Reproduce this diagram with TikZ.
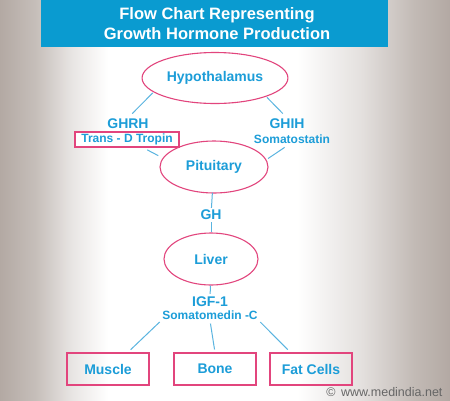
\documentclass[tikz,border=0pt]{standalone}
\usepackage{fontspec}
\setmainfont{Liberation Sans}
\usetikzlibrary{shapes.geometric,positioning}

\definecolor{bgrey}{HTML}{B3A9A3}
\definecolor{titleblue}{HTML}{0A9BD0}
\definecolor{txtblue}{HTML}{1C9DD8}
\definecolor{linkblue}{HTML}{5AB4E0}
\definecolor{pinkline}{HTML}{E2457D}
\pgfdeclarehorizontalshading{bgshade}{100bp}{color(0bp)=(bgrey); color(25bp)=(bgrey);
  color(29bp)=(bgrey!75!white); color(33bp)=(bgrey!30!white); color(37bp)=(white);
  color(58bp)=(white); color(65bp)=(bgrey!35!white); color(71bp)=(bgrey!80!white);
  color(75bp)=(bgrey); color(100bp)=(bgrey)}

\begin{document}
\begin{tikzpicture}[x=1pt,y=-1pt,
    organ/.style={ellipse,draw=pinkline,line width=1.1pt,fill=white,text=txtblue,
      font=\bfseries\fontsize{14}{16}\selectfont},
    target/.style={rectangle,draw=pinkline,line width=1.1pt,text=txtblue,
      minimum width=82pt,minimum height=32pt,font=\bfseries\fontsize{14}{16}\selectfont},
    hormone/.style={text=txtblue,inner sep=1pt,font=\bfseries\fontsize{14}{16}\selectfont},
    alias/.style={text=txtblue,inner sep=1pt,font=\bfseries\fontsize{12}{14}\selectfont},
    link/.style={draw=linkblue,line width=1pt}]

  \useasboundingbox (0,0) rectangle (450,400);
  \shade[shading=bgshade] (0,0) rectangle (450,400);
  \fill[titleblue] (41,0) rectangle (388,47);
  \node[text=white,align=center,font=\bfseries\fontsize{16.5}{20}\selectfont] (title) at (217,24)
    {Flow Chart Representing\\Growth Hormone Production};

  \node[organ,minimum width=120pt,minimum height=51pt] (hypo) at (215,78) {Hypothalamus};
  \node[organ,minimum width=108pt,minimum height=52pt] (pit) at (214,167) {Pituitary};
  \node[organ,minimum width=94pt,minimum height=52pt] (liver) at (211,259) {Liver};

  \node[hormone] (ghrh) at (128,124) {GHRH};
  \node[alias,draw=pinkline,line width=1.1pt,fill=white,minimum width=104pt,minimum height=15pt,inner sep=0pt]
    (trans) at (127,139.5) {Trans - D Tropin};
  \node[hormone] (ghih) at (287,124) {GHIH};
  \node[alias] (soma) at (292,139) {Somatostatin};
  \node[hormone] (gh) at (211,215) {GH};
  \node[hormone] (igf) at (210,302) {IGF-1};
  \node[alias] (somc) at (210,315) {Somatomedin -C};

  \node[target] (muscle) at (108,369) {Muscle};
  \node[target] (bone) at (215,369) {Bone};
  \node[target] (fat) at (311,369) {Fat Cells};

  \node[anchor=east,text=black!60,font=\fontsize{12.5}{14}\selectfont] (copy) at (446,392)
    {© \,www.medindia.net};

  \path[link]
    (hypo.193) edge[shorten <=1pt,shorten >=6pt] (ghrh.north)
    (trans.-27) edge[shorten <=5pt,shorten >=5pt] (pit.170)
    (hypo.-20) edge[shorten <=1pt,shorten >=6pt] (ghih.north)
    (soma.-120) edge[shorten <=5pt,shorten >=2pt] (pit.8)
    (pit) edge[shorten <=-1pt,shorten >=1pt] (gh)
    (gh) edge[shorten <=1pt,shorten >=0pt] (liver)
    (liver) edge[shorten <=0pt,shorten >=2pt] (igf)
    (somc.south west) edge[shorten <=2pt,shorten >=4pt] (muscle.40)
    (somc.south) edge[shorten <=3pt,shorten >=3pt] (bone.north)
    (somc.south east) edge[shorten <=2pt,shorten >=4pt] (fat.141);

\end{tikzpicture}
\end{document}
